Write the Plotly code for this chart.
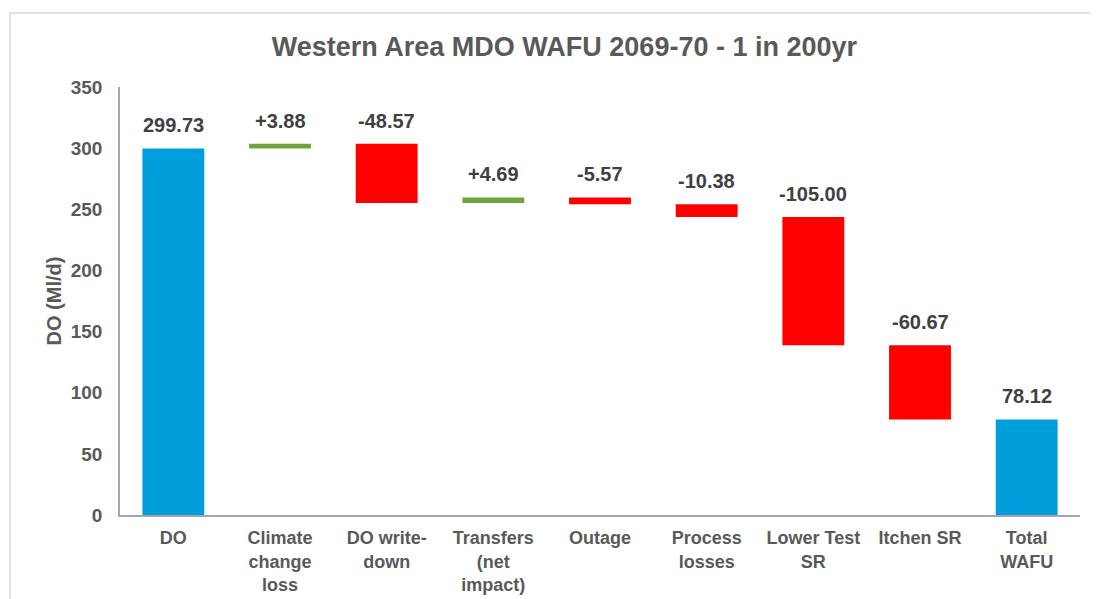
import plotly.graph_objects as go

# Datos del gráfico de cascada
categorias = ["DO", "Climate<br>change<br>loss", "DO write-<br>down", "Transfers<br>(net<br>impact)",
              "Outage", "Process<br>losses", "Lower Test<br>SR", "Itchen SR", "Total<br>WAFU"]
medidas = ["absolute", "relative", "relative", "relative", "relative",
           "relative", "relative", "relative", "total"]
valores = [299.73, 3.88, -48.57, 4.69, -5.57, -10.38, -105.00, -60.67, 78.12]
etiquetas = ["299.73", "+3.88", "-48.57", "+4.69", "-5.57", "-10.38", "-105.00", "-60.67", "78.12"]
ticks_y = [0, 50, 100, 150, 200, 250, 300, 350]

AZUL = "#009FDB"
ROJO = "#FF0000"
VERDE = "#6FA33D"
GRIS = "#595959"
FUENTE = "Liberation Sans, Arial, sans-serif"

fig = go.Figure()

fig.add_trace(go.Waterfall(
    x=categorias,
    y=valores,
    measure=medidas,
    increasing=dict(marker=dict(color=VERDE)),
    decreasing=dict(marker=dict(color=ROJO)),
    totals=dict(marker=dict(color=AZUL)),
    connector=dict(visible=False),
    hoverinfo="skip",
))

# Etiquetas encima de cada barra (parte superior calculada con la suma acumulada)
acum = 0
for cat, med, val, txt in zip(categorias, medidas, valores, etiquetas):
    if med == "relative":
        inicio, fin = acum, acum + val
        acum = fin
    else:
        inicio, fin = 0, val
        acum = val
    fig.add_annotation(
        x=cat, y=max(inicio, fin), text=f"<b>{txt}</b>",
        showarrow=False, yanchor="bottom", yshift=10,
        font=dict(family=FUENTE, size=20, color="#404040"),
    )

# Marco gris claro alrededor del gráfico
fig.add_shape(type="rect", xref="paper", yref="paper",
              x0=-0.1146, x1=1.2, y0=-0.4, y1=1.173,
              line=dict(color="#D9D9D9", width=1.5), fillcolor="rgba(0,0,0,0)")

# La página añade 8 px de margen, por eso el lienzo es 8 px más pequeño
fig.update_layout(
    width=1091, height=591,
    margin=dict(l=112, r=19, t=79, b=84),
    paper_bgcolor="white", plot_bgcolor="white",
    waterfallgap=0.42,
    showlegend=False,
    title=dict(text="<b>Western Area MDO WAFU 2069-70 - 1 in 200yr</b>",
               x=0.51, xanchor="center", y=0.935, yanchor="middle",
               font=dict(family=FUENTE, size=27, color=GRIS)),
    font=dict(family=FUENTE, color=GRIS),
)

fig.update_xaxes(
    showline=True, linecolor="#A6A6A6", linewidth=1.5,
    showgrid=False, ticks="", tickangle=0, automargin=False,
    ticklabelstandoff=6,
    tickvals=categorias, ticktext=[f"<b>{c}</b>" for c in categorias],
    tickfont=dict(family=FUENTE, size=18, color=GRIS),
)
fig.update_yaxes(
    range=[0, 350], automargin=False,
    tickvals=ticks_y, ticktext=[f"<b>{v}</b>" for v in ticks_y],
    showline=True, linecolor="#A6A6A6", linewidth=1.5,
    showgrid=False, zeroline=False, ticks="",
    ticklabelstandoff=12,
    tickfont=dict(family=FUENTE, size=19, color=GRIS),
    title=dict(text="<b>DO (Ml/d)</b>", standoff=4,
               font=dict(family=FUENTE, size=20, color=GRIS)),
)

fig.write_html("out.html")
